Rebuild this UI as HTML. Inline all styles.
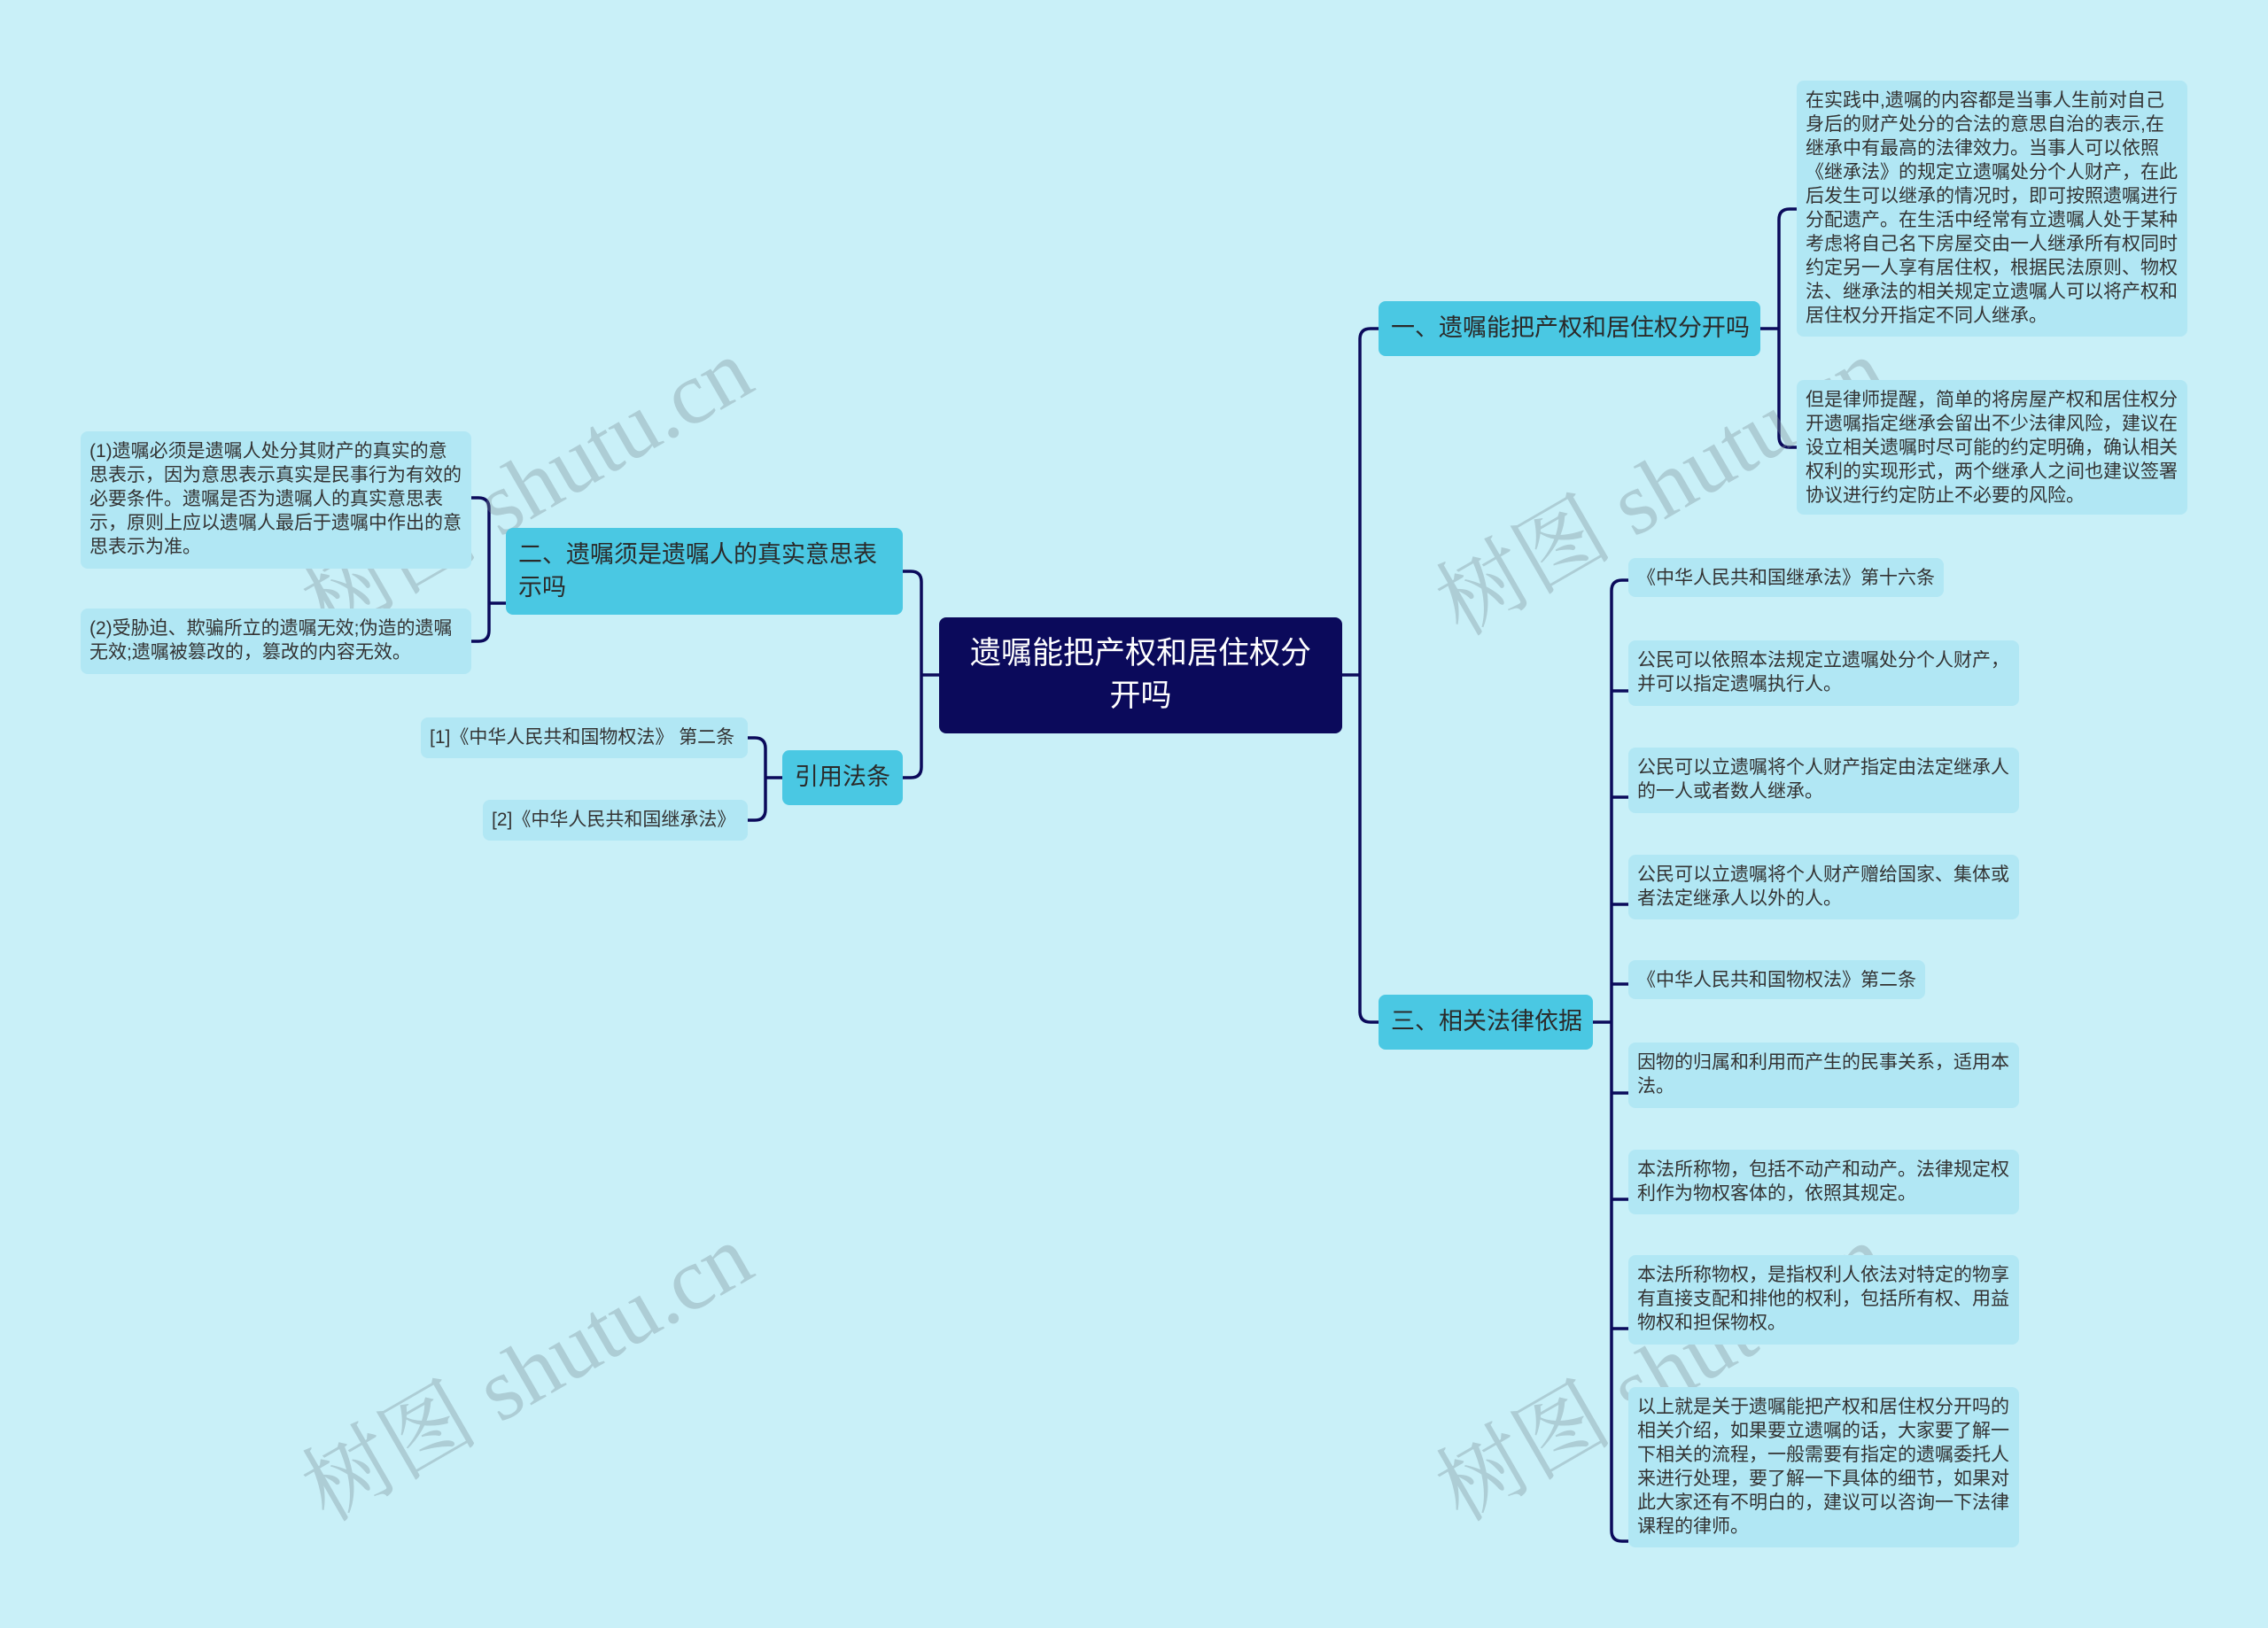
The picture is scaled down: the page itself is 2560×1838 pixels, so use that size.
<!DOCTYPE html>
<html><head><meta charset="utf-8"><style>
body{margin:0;width:2560px;height:1838px;background:#c9f0f8;position:relative;overflow:hidden;font-family:"Liberation Sans","Noto Sans CJK SC",sans-serif;}
.n{position:absolute;box-sizing:border-box;color:#333;}
.leaf{background:#b1e7f4;border-radius:8px;font-size:21px;line-height:27px;padding:9px 10px;}
.br{background:#4ac8e3;border-radius:8px;font-size:27px;line-height:37px;padding:12px 14px;color:#2a2a2a;}
.c{background:#0b0a5b;color:#fff;border-radius:8px;font-size:35px;line-height:48px;text-align:center;padding:17px 20px;}
.wm{position:absolute;font-family:"Liberation Serif","Noto Serif CJK SC",serif;font-size:100px;color:rgba(120,140,150,0.35);transform:rotate(-30deg);white-space:nowrap;}
svg{position:absolute;left:0;top:0}
</style></head><body>
<svg width="2560" height="1838" fill="none" stroke="#0b0a5b" stroke-width="3.5">
<path d="M1515 762 H1535"/>
<path d="M1556 371 H1547 Q1535 371 1535 383 V1142 Q1535 1154 1547 1154 H1556"/>
<path d="M1060 762 H1040"/>
<path d="M1019 645 H1028 Q1040 645 1040 657 V866 Q1040 878 1028 878 H1019"/>
<path d="M571 681 H552"/>
<path d="M532 562 H540 Q552 562 552 574 V712 Q552 724 540 724 H532"/>
<path d="M883 878 H864"/>
<path d="M844 833 H852 Q864 833 864 845 V914 Q864 926 852 926 H844"/>
<path d="M1987 371 H2008"/>
<path d="M2028 236 H2020 Q2008 236 2008 248 V493 Q2008 505 2020 505 H2028"/>
<path d="M1798 1154 H1819"/>
<path d="M1838 655 H1831 Q1819 655 1819 667 V1728 Q1819 1740 1831 1740 H1838"/>
<path d="M1819 780 H1838 M1819 900 H1838 M1819 1021 H1838 M1819 1111 H1838 M1819 1234 H1838 M1819 1354 H1838 M1819 1500 H1838"/>
</svg>
<div class="wm" style="left:310px;top:470px">树图 shutu.cn</div>
<div class="wm" style="left:310px;top:1470px">树图 shutu.cn</div>
<div class="wm" style="left:1590px;top:470px">树图 shutu.cn</div>
<div class="wm" style="left:1590px;top:1470px">树图 shutu.cn</div>

<div class="n c" style="left:1060px;top:697px;width:455px;height:131px">遗嘱能把产权和居住权分开吗</div>
<div class="n br" style="left:1556px;top:340px;width:431px;height:62px;white-space:nowrap">一、遗嘱能把产权和居住权分开吗</div>
<div class="n br" style="left:571px;top:596px;width:448px;height:98px">二、遗嘱须是遗嘱人的真实意思表示吗</div>
<div class="n br" style="left:883px;top:847px;width:136px;height:62px;white-space:nowrap">引用法条</div>
<div class="n br" style="left:1556px;top:1123px;width:242px;height:62px;white-space:nowrap">三、相关法律依据</div>

<div class="n leaf" style="left:2028px;top:91px;width:441px;height:289px">在实践中,遗嘱的内容都是当事人生前对自己身后的财产处分的合法的意思自治的表示,在继承中有最高的法律效力。当事人可以依照《继承法》的规定立遗嘱处分个人财产，在此后发生可以继承的情况时，即可按照遗嘱进行分配遗产。在生活中经常有立遗嘱人处于某种考虑将自己名下房屋交由一人继承所有权同时约定另一人享有居住权，根据民法原则、物权法、继承法的相关规定立遗嘱人可以将产权和居住权分开指定不同人继承。</div>
<div class="n leaf" style="left:2028px;top:429px;width:441px;height:152px">但是律师提醒，简单的将房屋产权和居住权分开遗嘱指定继承会留出不少法律风险，建议在设立相关遗嘱时尽可能的约定明确，确认相关权利的实现形式，两个继承人之间也建议签署协议进行约定防止不必要的风险。</div>

<div class="n leaf" style="left:91px;top:487px;width:441px;height:155px">(1)遗嘱必须是遗嘱人处分其财产的真实的意思表示，因为意思表示真实是民事行为有效的必要条件。遗嘱是否为遗嘱人的真实意思表示，原则上应以遗嘱人最后于遗嘱中作出的意思表示为准。</div>
<div class="n leaf" style="left:91px;top:687px;width:441px;height:74px">(2)受胁迫、欺骗所立的遗嘱无效;伪造的遗嘱无效;遗嘱被篡改的，篡改的内容无效。</div>
<div class="n leaf" style="left:475px;top:810px;width:369px;height:46px;white-space:nowrap">[1]《中华人民共和国物权法》 第二条</div>
<div class="n leaf" style="left:545px;top:903px;width:299px;height:46px;white-space:nowrap">[2]《中华人民共和国继承法》</div>

<div class="n leaf" style="left:1838px;top:630px;width:356px;height:44px;white-space:nowrap">《中华人民共和国继承法》第十六条</div>
<div class="n leaf" style="left:1838px;top:723px;width:441px;height:74px">公民可以依照本法规定立遗嘱处分个人财产，并可以指定遗嘱执行人。</div>
<div class="n leaf" style="left:1838px;top:844px;width:441px;height:74px">公民可以立遗嘱将个人财产指定由法定继承人的一人或者数人继承。</div>
<div class="n leaf" style="left:1838px;top:965px;width:441px;height:73px">公民可以立遗嘱将个人财产赠给国家、集体或者法定继承人以外的人。</div>
<div class="n leaf" style="left:1838px;top:1084px;width:335px;height:44px;white-space:nowrap">《中华人民共和国物权法》第二条</div>
<div class="n leaf" style="left:1838px;top:1177px;width:441px;height:74px">因物的归属和利用而产生的民事关系，适用本法。</div>
<div class="n leaf" style="left:1838px;top:1298px;width:441px;height:73px">本法所称物，包括不动产和动产。法律规定权利作为物权客体的，依照其规定。</div>
<div class="n leaf" style="left:1838px;top:1417px;width:441px;height:101px">本法所称物权，是指权利人依法对特定的物享有直接支配和排他的权利，包括所有权、用益物权和担保物权。</div>
<div class="n leaf" style="left:1838px;top:1566px;width:441px;height:181px">以上就是关于遗嘱能把产权和居住权分开吗的相关介绍，如果要立遗嘱的话，大家要了解一下相关的流程，一般需要有指定的遗嘱委托人来进行处理，要了解一下具体的细节，如果对此大家还有不明白的，建议可以咨询一下法律课程的律师。</div>
</body></html>
